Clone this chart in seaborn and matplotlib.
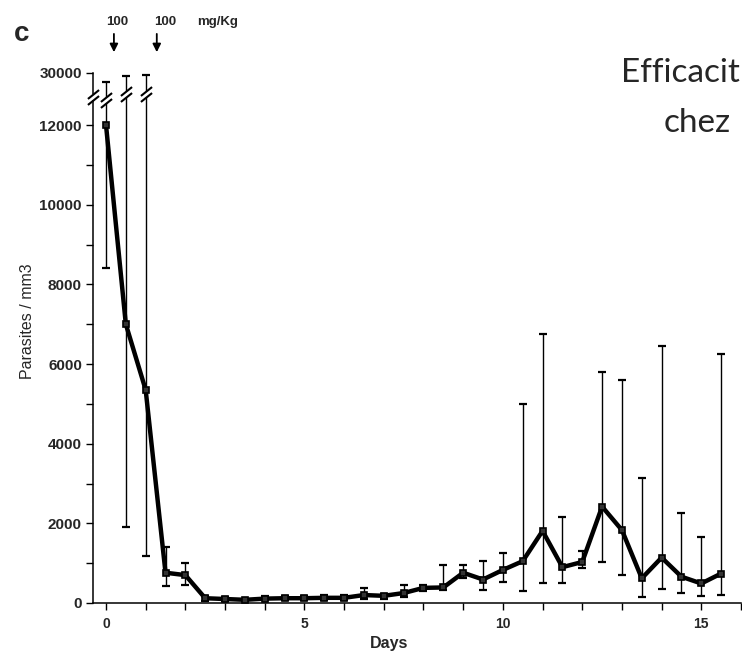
import numpy as np
import pandas as pd
import seaborn as sns
import matplotlib
matplotlib.use("Agg")
import matplotlib.pyplot as plt

# values (parasites / mm3, mean with top and bottom of each bar)
days = [0, 0.5, 1, 1.5, 2, 2.5, 3, 3.5, 4, 4.5, 5, 5.5, 6, 6.5, 7, 7.5,
        8, 8.5, 9, 9.5, 10, 10.5, 11, 11.5, 12, 12.5, 13, 13.5, 14, 14.5, 15, 15.5]
parasites = [12100, 7000, 5350, 760, 700, 120, 100, 80, 110, 120, 120, 130, 130, 200, 180, 250,
             380, 390, 760, 590, 830, 1050, 1810, 900, 1030, 2420, 1830, 620, 1140, 660, 490, 740]
bar_top = [26900, 29000, 29300, 1400, 1000, 180, 150, 110, 170, 180, 180, 200, 190, 380, 230, 450,
           450, 950, 960, 1050, 1250, 5000, 6750, 2150, 1300, 5800, 5600, 3150, 6450, 2250, 1650, 6250]
bar_bottom = [8400, 1900, 1170, 430, 460, 60, 60, 50, 80, 80, 80, 80, 80, 100, 100, 150,
              300, 330, 620, 330, 530, 300, 500, 490, 890, 1030, 700, 140, 350, 240, 170, 200]

dose_days = [0.2, 1.28]
dose_labels = ["100", "100"]

y_major = [0, 2000, 4000, 6000, 8000, 10000, 12000, 30000]
y_minor = [1000, 3000, 5000, 7000, 9000, 11000]
x_labelled = [0, 5, 10, 15]

df = pd.DataFrame({"day": days, "parasites": parasites})
df["lo"] = df["parasites"] - np.array(bar_bottom)
df["hi"] = np.array(bar_top) - df["parasites"]

sns.set_style("ticks")
plt.rcParams["font.family"] = ["Liberation Sans", "DejaVu Sans"]

# broken y axis: everything above 12000 is squeezed
BREAK = 12000
K = 0.0726


def fwd(y):
	y = np.asarray(y, dtype=float)
	return np.where(y <= BREAK, y, BREAK + (y - BREAK) * K)


def inv(t):
	t = np.asarray(t, dtype=float)
	return np.where(t <= BREAK, t, BREAK + (t - BREAK) / K)


fig = plt.figure(figsize=(7.42, 6.59), dpi=100)
ax = fig.add_axes([93 / 742, 56 / 659, 648 / 742, 530 / 659])
ax.set_yscale("function", functions=(fwd, inv))

ax.errorbar(df["day"], df["parasites"], yerr=[df["lo"], df["hi"]], fmt="none", ecolor="black",
	elinewidth=1.0, capsize=3, capthick=1.6, zorder=2)
sns.lineplot(data=df, x="day", y="parasites", ax=ax, color="black", linewidth=3.2,
	marker="s", markersize=5, markerfacecolor="#333333", markeredgecolor="black",
	markeredgewidth=1.2, zorder=3)

ax.set_xlim(-0.327, 16.0)
ax.set_ylim(0, 30000)

ax.set_xticks(x_labelled)
ax.set_xticklabels([str(v) for v in x_labelled], fontweight="bold", fontsize=10)
ax.set_xticks(range(0, 17), minor=True)
ax.set_yticks(y_major)
ax.set_yticklabels([str(v) for v in y_major], fontweight="bold", fontsize=11)
ax.set_yticks(y_minor, minor=True)
ax.tick_params(which="both", length=5, width=1.0, color="black")
ax.tick_params(axis="x", which="both", pad=5)
ax.tick_params(axis="y", which="both", pad=3)

sns.despine(ax=ax)
for s in ["left", "bottom"]:
	ax.spines[s].set_linewidth(1.1)
	ax.spines[s].set_color("black")

ax.set_xlabel("Days", fontweight="bold", fontsize=11.5, va="top")
ax.xaxis.set_label_coords(0.457, -0.062)
ax.set_ylabel("Parasites / mm3", fontsize=11.5, fontweight="medium")
ax.yaxis.set_label_coords(-0.09, 0.532)

# break marks "//" on the axis and the three tall bars
xt = ax.get_xaxis_transform()
slash = [(-1, -0.8), (1, 0.8)]
gap = 0.0058
for bx, yc in [(-0.327, 0.9547), (0, 0.949), (0.5, 0.9604), (1, 0.9604)]:
	ax.plot([bx, bx], [yc - gap, yc + gap], color="white", lw=4, transform=xt,
		clip_on=False, zorder=6, solid_capstyle="butt")
	ax.plot([bx, bx], [yc - gap, yc + gap], linestyle="none", marker=slash, markersize=8,
		markeredgewidth=1.5, color="black", transform=xt, clip_on=False, zorder=7)

# dosing arrows
for d, lab, lx in zip(dose_days, dose_labels, [0.295, 1.5]):
	ax.annotate("", xy=(d, 1.034), xytext=(d, 1.079), xycoords=("data", "axes fraction"),
		textcoords=("data", "axes fraction"),
		arrowprops=dict(arrowstyle="-|>", color="black", lw=1.3, mutation_scale=12))
	ax.annotate(lab, xy=(lx, 1.096), xycoords=("data", "axes fraction"), ha="center",
		va="center", fontsize=9.5, fontweight="bold")
ax.annotate("mg/Kg", xy=(2.29, 1.096), xycoords=("data", "axes fraction"), ha="left",
	va="center", fontsize=9.5, fontweight="bold")

fig.text(14 / 742, 1 - 34 / 659, "c", fontsize=20, fontweight="bold", ha="left", va="center")

fig.text(621 / 742, 1 - 82 / 659, "Efficacit", fontsize=24, family="Lato",
	ha="left", va="baseline")
fig.text(664 / 742, 1 - 132 / 659, "chez", fontsize=24, family="Lato",
	ha="left", va="baseline")

fig.savefig("out.png", dpi=100)
